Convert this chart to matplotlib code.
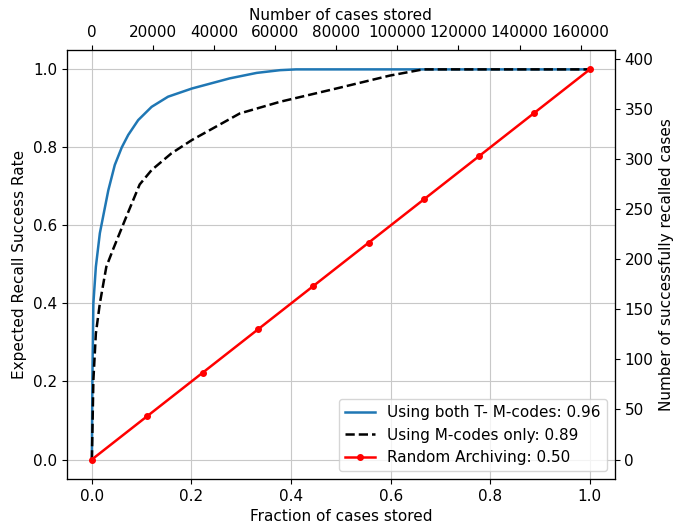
import numpy as np
import matplotlib
matplotlib.use('Agg')
import matplotlib.pyplot as plt

# curves
both_x = [0.0, 0.001, 0.003, 0.008, 0.016, 0.024, 0.033, 0.046, 0.060, 0.073, 0.093,
          0.12, 0.153, 0.201, 0.277, 0.331, 0.378, 0.41, 0.7, 1.0]
both_y = [0.0, 0.20, 0.40, 0.494, 0.58, 0.632, 0.69, 0.755, 0.80, 0.832, 0.87,
          0.904, 0.93, 0.951, 0.977, 0.991, 0.998, 1.0, 1.0, 1.0]

mcode_x = [0.0, 0.003, 0.008, 0.016, 0.029, 0.043, 0.07, 0.096, 0.12, 0.16,
           0.201, 0.297, 0.378, 0.491, 0.598, 0.665, 0.8, 1.0]
mcode_y = [0.0, 0.203, 0.323, 0.40, 0.494, 0.54, 0.625, 0.705, 0.742, 0.785,
           0.819, 0.887, 0.917, 0.951, 0.984, 1.0, 1.0, 1.0]

rand_x = [0, 1/9, 2/9, 3/9, 4/9, 5/9, 6/9, 7/9, 8/9, 1]
rand_y = [0, 1/9, 2/9, 3/9, 4/9, 5/9, 6/9, 7/9, 8/9, 1]

n_stored = 163000
n_recalled = 390

fs = 11
fig, ax = plt.subplots(figsize=(6.8, 5.25), dpi=100)
fig.subplots_adjust(left=0.0985, right=0.904, top=0.905, bottom=0.0876)

ax.plot(both_x, both_y, color='tab:blue', lw=1.8, label='Using both T- M-codes: 0.96')
ax.plot(mcode_x, mcode_y, '--', color='k', lw=1.8, label='Using M-codes only: 0.89')
ax.plot(rand_x, rand_y, '-o', color='red', lw=1.8, ms=4, label='Random Archiving: 0.50')
ax.set_xlim(-0.05, 1.05)
ax.set_ylim(-0.05, 1.05)
ax.grid(True, color='#c8c8c8')
ax.set_xlabel('Fraction of cases stored', fontsize=fs)
ax.set_ylabel('Expected Recall Success Rate', fontsize=fs)
ax.tick_params(labelsize=fs)
ax.legend(loc='lower right', fontsize=fs)

axt = ax.twiny()
axt.set_xlim(-0.05 * n_stored, 1.05 * n_stored)
axt.set_xticks(np.arange(0, 160001, 20000))
axt.set_xlabel('Number of cases stored', fontsize=fs)
axt.tick_params(labelsize=fs)

axr = ax.twinx()
axr.set_ylim(-0.05 * n_recalled, 1.05 * n_recalled)
axr.set_yticks(np.arange(0, 401, 50))
axr.set_ylabel('Number of successfully recalled cases', fontsize=fs)
axr.tick_params(labelsize=fs)

fig.savefig('out.png', dpi=100)
